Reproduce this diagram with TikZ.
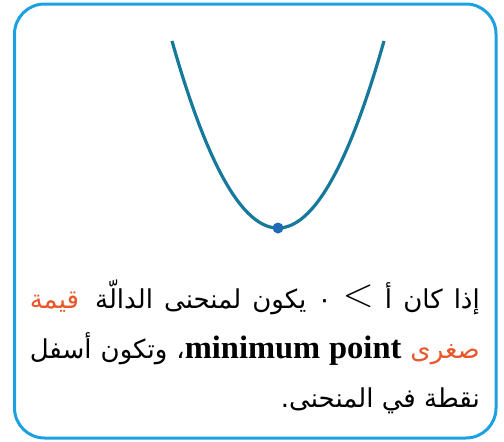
\documentclass[tikz,border=0pt]{standalone}
\usepackage{fontspec}
\newfontfamily\arabicfont[Script=Arabic]{DejaVu Sans}
\newfontfamily\latinserif{Liberation Serif}
\TeXXeTstate=1
\definecolor{frameblue}{HTML}{1BA1E2}
\definecolor{curveteal}{HTML}{16789A}
\definecolor{dotblue}{HTML}{1E6BB8}
\definecolor{orangeC}{HTML}{E9562B}
\tikzset{
  frame/.style={draw=frameblue, line width=3pt, rounded corners=30pt},
  curve/.style={draw=curveteal, line width=3.2pt},
  mindot/.style={circle, fill=dotblue, inner sep=0pt, minimum size=11pt},
  textline/.style={anchor=base east, inner sep=0pt, font=\arabicfont\fontsize{26}{30}\selectfont}
}
\newcommand{\latinbold}[1]{{\latinserif\bfseries\fontsize{32.5}{34}\selectfont #1}}
\newcommand{\bigrel}{\raisebox{2pt}{\scalebox{1.65}{$<$}}}
\begin{document}
\begin{tikzpicture}[x=1pt,y=-1pt]
\useasboundingbox (0,0) rectangle (504,442);
\draw[frame] (14.5,4) rectangle (496,438);
\draw[curve] plot[domain=-106:106, samples=90, smooth] ({278+\x},{228-187*(\x/106)^2});
\node[mindot] (min) at (278,228) {};
\node[textline] (l1) at (480,308) {\hbox to 450pt{{\color{orangeC}\beginR قيمة\endR}\hskip 14pt plus 3pt\beginR يكون لمنحنى الدالّة\endR\ ٠\ \bigrel\ \beginR إذا كان أ\endR}};
\node[textline] (l2) at (480,358) {\hbox to 450pt{\beginR وتكون أسفل\endR\ \beginR ،\endR\latinbold{minimum point} {\color{orangeC}\beginR صغرى\endR}}};
\node[textline] (l3) at (480,407) {\beginR نقطة في المنحنى.\endR};
\end{tikzpicture}
\end{document}
